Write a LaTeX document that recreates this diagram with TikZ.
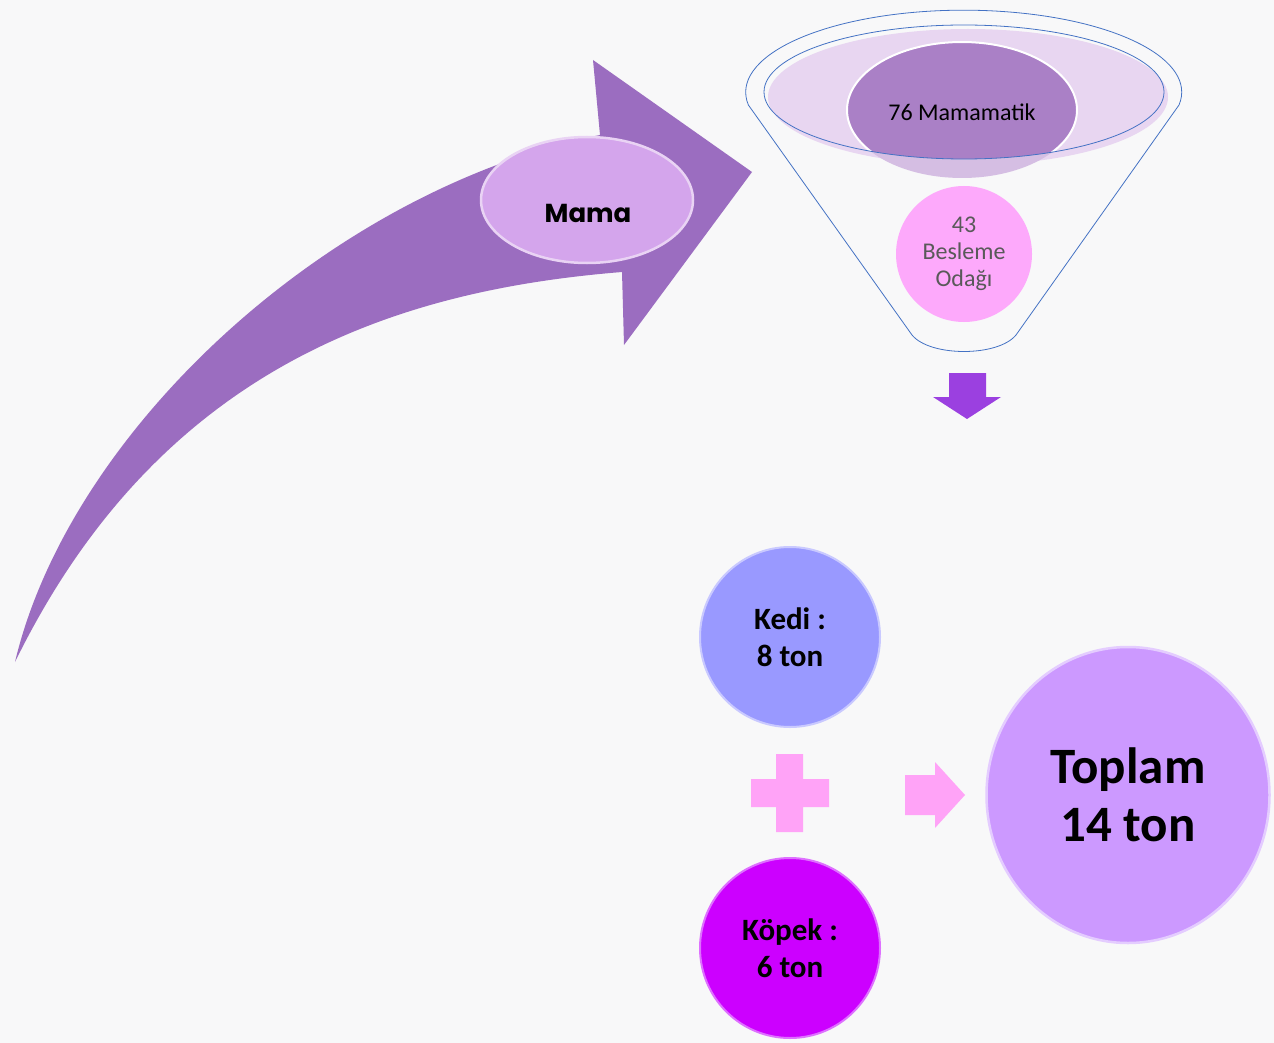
\documentclass[tikz,border=0pt]{standalone}
\usepackage{fontspec}
\setmainfont{Carlito}
\newfontfamily\popfont{Poppins}
\usetikzlibrary{shapes.geometric}
\definecolor{bgc}{HTML}{F8F8F9}
\definecolor{arrowc}{HTML}{9B6DC0}
\definecolor{mamac}{HTML}{D4A5EC}
\definecolor{mamab}{HTML}{E9D3F4}
\definecolor{funline}{HTML}{4472C4}
\definecolor{lavc}{HTML}{E8D6F1}
\definecolor{darkc}{HTML}{AA80C6}
\definecolor{darklt}{HTML}{D5BEE3}
\definecolor{pinkc}{HTML}{FDA9FB}
\definecolor{downc}{HTML}{9B40E0}
\definecolor{kedic}{HTML}{9999FF}
\definecolor{kedib}{HTML}{C9C9FF}
\definecolor{kopekc}{HTML}{CC00FF}
\definecolor{kopekb}{HTML}{DE70FF}
\definecolor{plusc}{HTML}{FFA3F7}
\definecolor{toplamc}{HTML}{CC99FF}
\definecolor{toplamb}{HTML}{E4CCFF}
\definecolor{graytext}{HTML}{595959}
\tikzset{
  ball/.style={circle, inner sep=0pt, align=center, font=\bfseries\fontsize{31}{37}\selectfont, line width=2pt},
}
\begin{document}
\begin{tikzpicture}[x=1pt,y=-1pt]
\useasboundingbox (0,0) rectangle (1274,1043);
\fill[bgc] (0,0) rectangle (1274,1043);

% curved arrow
\fill[arrowc] (15,662) .. controls (70,430) and (330,190) .. (600,135)
  -- (593,60) -- (752,172) -- (624,345) -- (622,272)
  .. controls (400,290) and (161,364) .. (15,662) -- cycle;
\node[ellipse, minimum width=212pt, minimum height=126pt, fill=mamac, draw=mamab, line width=2.5pt] (mama) at (587,200) {};
\node[font=\popfont\bfseries\fontsize{26}{30}\selectfont] (mamat) at (588,213) {Mama};

% funnel
\fill[lavc] (968,97) ellipse[x radius=200pt, y radius=68pt];
\fill[darklt] (962,110) ellipse[x radius=115pt, y radius=68pt];
\begin{scope}
  \clip (964,92) ellipse[x radius=200pt, y radius=67pt];
  \fill[darkc] (962,110) ellipse[x radius=115pt, y radius=68pt];
  \draw[white, line width=2pt] (962,110) ellipse[x radius=115pt, y radius=68pt];
\end{scope}
\draw[funline, line width=0.8pt] (964,92) ellipse[x radius=200pt, y radius=67pt];
\node[font=\fontsize{24}{28}\selectfont] (mamatik) at (962,112) {76 Mamamatik};
\draw[funline, line width=0.8pt] (1179,105) arc[start angle=-9, end angle=189, x radius=218pt, y radius=82pt]
  -- (912,335) .. controls (930,357) and (998,357) .. (1016,335) -- cycle;
\node[circle, minimum size=136pt, inner sep=0pt, fill=pinkc, align=center, text=graytext, font=\fontsize{24}{27}\selectfont] (besleme) at (964,254) {43\\Besleme\\Odağı};

% down arrow
\fill[downc] (949,373) -- (986,373) -- (986,397) -- (1001,397) -- (967,419) -- (933,397) -- (949,397) -- cycle;

% circles
\node[ball, minimum size=180pt, fill=kedic, draw=kedib] (kedi) at (790,637) {Kedi :\\8 ton};
\node[ball, minimum size=180pt, fill=kopekc, draw=kopekb] (kopek) at (790,948) {Köpek :\\6 ton};
\node[ellipse, minimum width=283pt, minimum height=296pt, inner sep=0pt, fill=toplamc, draw=toplamb, line width=2.5pt, align=center, font=\bfseries\fontsize{51}{58}\selectfont] (toplam) at (1128,795) {Toplam\\14 ton};

% plus
\fill[plusc] (776,754) -- (803,754) -- (803,779) -- (829,779) -- (829,807) -- (803,807) -- (803,832) -- (776,832) -- (776,807) -- (751,807) -- (751,779) -- (776,779) -- cycle;
% right arrow
\fill[plusc] (905,775) -- (935,775) -- (935,762) -- (965,795) -- (935,828) -- (935,815) -- (905,815) -- cycle;
\end{tikzpicture}
\end{document}
